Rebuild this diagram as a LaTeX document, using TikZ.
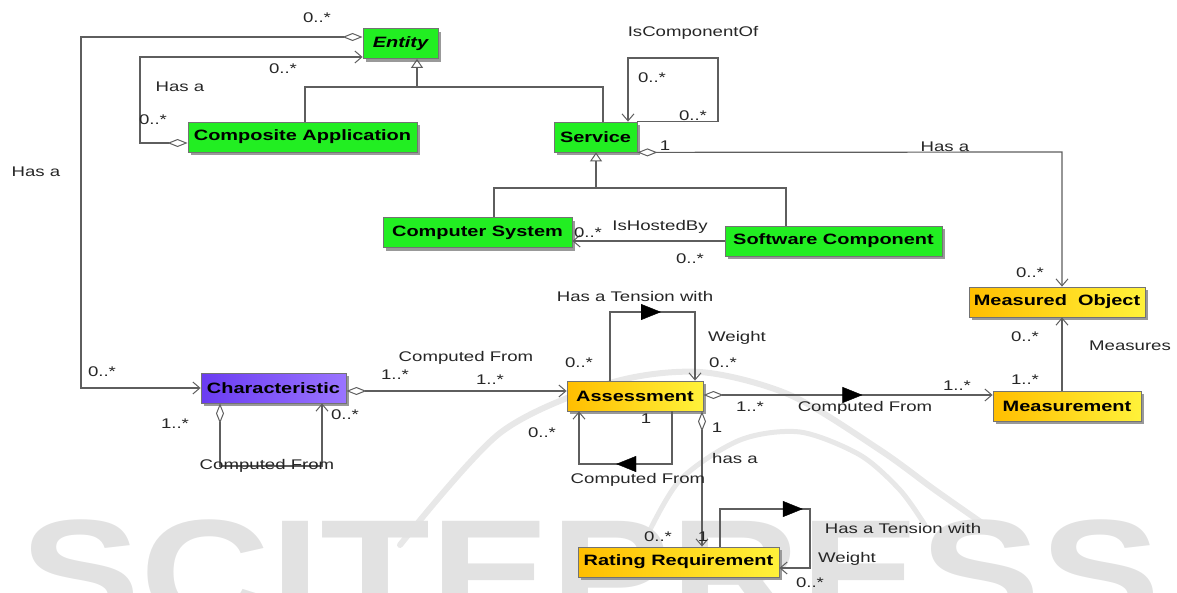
\documentclass[tikz,border=0pt]{standalone}
\usepackage{fontspec}
\setmainfont{Liberation Sans}
\usepackage{graphicx}
\usetikzlibrary{arrows.meta,decorations.markings}

\definecolor{linegray}{HTML}{5E5E5E}
\definecolor{umlgreen}{HTML}{22EE22}
\definecolor{ylwleft}{HTML}{FFBE00}
\definecolor{ylwright}{HTML}{FFF23A}
\definecolor{purpleleft}{HTML}{6A3CF2}
\definecolor{purpleright}{HTML}{9A74FF}
\definecolor{wmark}{HTML}{E2E2E2}

% widened text, as the diagram is set with a stretched face
\newcommand{\wlbl}[1]{\scalebox{1.33}[1]{#1}}
\newcommand{\wcls}[1]{\scalebox{1.33}[1]{\bfseries #1}}

\tikzset{
  cls/.style={draw=black!55, line width=0.8pt, inner sep=0pt, minimum height=30pt,
    text=black, font=\fontsize{15}{18}\selectfont,
    preaction={fill=black!40, transform canvas={xshift=3pt, yshift=-3pt}}},
  greencls/.style={cls, fill=umlgreen},
  yellowcls/.style={cls, left color=ylwleft, right color=ylwright},
  purplecls/.style={cls, left color=purpleleft, right color=purpleright},
  lbl/.style={inner sep=0pt, text=black!85, font=\fontsize{14}{16}\selectfont},
  conn/.style={draw=linegray, line width=1.2pt},
  openhead/.style={-{Straight Barb[length=7pt, width=12pt, line width=1pt]}},
  agghead/.style={{Diamond[open, length=20pt, width=8pt, line width=1pt]}-{Straight Barb[length=7pt, width=12pt, line width=1pt]}},
  genhead/.style={-{Triangle[open, length=9pt, width=12pt, line width=1pt]}},
  midtri/.style={postaction={decorate, decoration={markings,
      mark=at position #1 with {\arrow{Triangle[length=20pt, width=16pt]}}}}},
}

\begin{document}
\begin{tikzpicture}[x=1pt, y=-1pt]
\useasboundingbox (0,0) rectangle (1177,592);

% ---- watermark behind the diagram
\begin{scope}
  \clip (0,0) rectangle (1177,592);
  \draw[wmark!80, line width=6pt, line cap=round] plot[smooth] coordinates
    {(400,545) (500,433) (610,383) (700,372) (790,395) (880,450) (935,490) (985,525)};
  \draw[wmark!80, line width=5pt, line cap=round] plot[smooth] coordinates
    {(645,540) (680,480) (740,440) (800,432) (860,455) (900,490) (925,525)};
  \node[anchor=north west, inner sep=0pt, text=wmark,
        font=\fontsize{150}{150}\selectfont\bfseries] (wm) at (20,520)
        {\scalebox{1.2}[1]{SCITEPRESS}};
\end{scope}

% ---- classes
\node[greencls, minimum width=75pt]  (Entity)    at (400.5,43.5) {\wcls{\itshape Entity}};
\node[greencls, minimum width=229pt] (Composite) at (302.5,137)  {\wcls{Composite Application}};
\node[greencls, minimum width=83pt]  (Service)   at (595.5,137)  {\wcls{Service}};
\node[greencls, minimum width=189pt] (Computer)  at (477.5,232.5) {\wcls{Computer System}};
\node[greencls, minimum width=217pt] (Software)  at (833.5,241)  {\wcls{Software Component}};
\node[yellowcls, minimum width=176pt] (MeasObj)  at (1057,302)   {\wcls{Measured\ \ Object}};
\node[purplecls, minimum width=145pt] (Charac)   at (273.5,388)  {\wcls{Characteristic}};
\node[yellowcls, minimum width=136pt] (Assess)   at (635,396)    {\wcls{Assessment}};
\node[yellowcls, minimum width=148pt] (Measure)  at (1067,406)   {\wcls{Measurement}};
\node[yellowcls, minimum width=201pt] (Rating)   at (678.5,562)  {\wcls{Rating Requirement}};

% ---- bend points
\coordinate (e1) at (81,37);
\coordinate (c1) at (140,143);
\coordinate (c2) at (140,57);
\coordinate (gA) at (305,87);
\coordinate (gB) at (603,87);
\coordinate (gE) at (417,87);
\coordinate (s1) at (718,58);
\coordinate (s2) at (628,58);
\coordinate (h1) at (1062,152);
\coordinate (k1) at (494,188);
\coordinate (k2) at (786,188);
\coordinate (k3) at (596,188);
\coordinate (hb) at (650,241);
\coordinate (cf) at (450,391);
\coordinate (q1) at (220,466);
\coordinate (q2) at (322,466);
\coordinate (a1) at (610,312);
\coordinate (a2) at (695,312);
\coordinate (b1) at (672,464);
\coordinate (b2) at (579,464);
\coordinate (mm) at (850,395);
\coordinate (rr) at (702,450);
\coordinate (t1) at (720,509);
\coordinate (t2) at (810,509);
\coordinate (t3) at (810,568);

% ---- associations
\draw[conn, agghead] (Entity.west |- e1) -- (e1) |- (Charac.west);
\draw[conn, agghead] (Composite.west |- c1) -- (c1) -- (c2) -- (Entity.west |- c2);
\draw[conn, openhead] (Service.north east) -| (s1) -- (s2) -- (Service.north -| s2);
\draw[conn, agghead] (Service.south east) -- (h1) -- (MeasObj.north -| h1);
\draw[conn, openhead] (Software.west |- hb) -- (Computer.east |- hb);
\draw[conn, agghead] (Charac.east |- cf) -- (Assess.west |- cf);
\draw[conn, agghead] (Charac.south -| q1) -- (q1) -- (q2) -- (Charac.south -| q2);
\draw[conn, openhead] (Assess.north -| a1) -- (a1) -- (a2) -- (Assess.north -| a2);
\path[midtri=0.6] (a1) -- (a2);
\draw[conn, openhead] (Assess.south -| b1) -- (b1) -- (b2) -- (Assess.south -| b2);
\path[midtri=0.6] (b1) -- (b2);
\draw[conn, agghead] (Assess.east |- mm) -- (Measure.west |- mm);
\path[midtri=0.55] (Assess.east |- mm) -- (Measure.west |- mm);
\draw[conn, openhead] (Measure.north -| h1) -- (MeasObj.south -| h1);
\draw[conn, agghead] (Assess.south -| rr) -- (Rating.north -| rr);
\draw[conn, openhead] (Rating.north -| t1) -- (t1) -- (t2) -- (t3) -- (Rating.east |- t3);
\path[midtri=0.92] (t1) -- (t2);

% ---- generalizations
\draw[conn] (Composite.north -| gA) |- (gB) -- (Service.north -| gB);
\draw[conn, genhead] (gE) -- (Entity.south -| gE);
\draw[conn] (Computer.north -| k1) |- (k2) -- (Software.north -| k2);
\draw[conn, genhead] (k3) -- (Service.south -| k3);

% ---- labels
\node[lbl] (n01) at (317,18)  {\wlbl{0..*}};
\node[lbl] (n02) at (36,172)  {\wlbl{Has a}};
\node[lbl] (n03) at (102,372) {\wlbl{0..*}};
\node[lbl] (n04) at (283,69)  {\wlbl{0..*}};
\node[lbl] (n05) at (180,87)  {\wlbl{Has a}};
\node[lbl] (n06) at (153,120) {\wlbl{0..*}};
\node[lbl] (n07) at (693,33)  {\wlbl{IsComponentOf}};
\node[lbl] (n08) at (652,78)  {\wlbl{0..*}};
\node[lbl] (n09) at (693,116) {\wlbl{0..*}};
\node[lbl] (n10) at (665,146) {\wlbl{1}};
\node[lbl] (n11) at (945,147) {\wlbl{Has a}};
\node[lbl] (n12) at (1030,273) {\wlbl{0..*}};
\node[lbl] (n13) at (588,233) {\wlbl{0..*}};
\node[lbl] (n14) at (660,227) {\wlbl{IsHostedBy}};
\node[lbl] (n15) at (690,259) {\wlbl{0..*}};
\node[lbl] (n16) at (466,358) {\wlbl{Computed From}};
\node[lbl] (n17) at (395,375) {\wlbl{1..*}};
\node[lbl] (n18) at (490,380) {\wlbl{1..*}};
\node[lbl] (n19) at (267,466) {\wlbl{Computed From}};
\node[lbl] (n20) at (175,424) {\wlbl{1..*}};
\node[lbl] (n21) at (345,415) {\wlbl{0..*}};
\node[lbl] (n22) at (635,296) {\wlbl{Has a Tension with}};
\node[lbl] (n23) at (737,338) {\wlbl{Weight}};
\node[lbl] (n24) at (579,363) {\wlbl{0..*}};
\node[lbl] (n25) at (723,363) {\wlbl{0..*}};
\node[lbl] (n26) at (646,419) {\wlbl{1}};
\node[lbl] (n27) at (542,433) {\wlbl{0..*}};
\node[lbl] (n28) at (638,480) {\wlbl{Computed From}};
\node[lbl] (n29) at (750,407) {\wlbl{1..*}};
\node[lbl] (n30) at (865,408) {\wlbl{Computed From}};
\node[lbl] (n31) at (957,386) {\wlbl{1..*}};
\node[lbl] (n32) at (1025,337) {\wlbl{0..*}};
\node[lbl] (n33) at (1025,380) {\wlbl{1..*}};
\node[lbl] (n34) at (1130,346) {\wlbl{Measures}};
\node[lbl] (n35) at (717,428) {\wlbl{1}};
\node[lbl] (n36) at (735,458) {\wlbl{has a}};
\node[lbl] (n37) at (658,537) {\wlbl{0..*}};
\node[lbl] (n38) at (703,537) {\wlbl{1}};
\node[lbl] (n39) at (903,528) {\wlbl{Has a Tension with}};
\node[lbl] (n40) at (847,559) {\wlbl{Weight}};
\node[lbl] (n41) at (810,583) {\wlbl{0..*}};
\end{tikzpicture}
\end{document}
